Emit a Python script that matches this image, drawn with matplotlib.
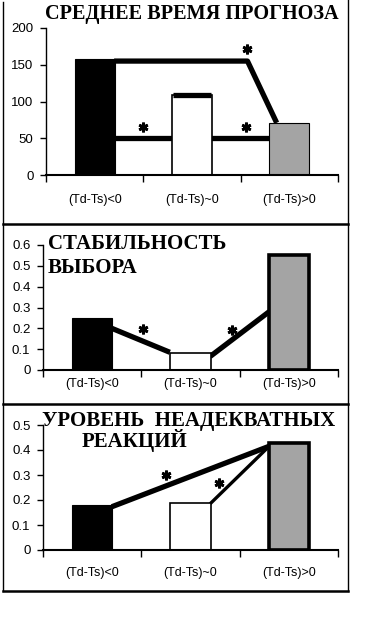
import matplotlib
matplotlib.use('Agg')
import matplotlib.pyplot as plt
from matplotlib.lines import Line2D

W, H = 380, 625  # figure size in pixels

cats = ['(Td-Ts)<0', '(Td-Ts)~0', '(Td-Ts)>0']

# panel 1 - mean forecast time
time_vals = [158, 109, 71]
time_ticks = [0, 50, 100, 150, 200]
time_lines = [([0.2, 1.57, 1.87], [155, 155, 71]),
              ([0.2, 0.8], [51, 51]),
              ([1.2, 1.8], [51, 51]),
              ([0.8, 1.2], [109, 109])]
time_stars_x = [0.5, 1.55, 1.57]
time_stars_y = [65, 65, 171]

# panel 2 - choice stability
stab_vals = [0.25, 0.08, 0.55]
stab_ticks = [0, 0.1, 0.2, 0.3, 0.4, 0.5, 0.6]
stab_lines = [([0.2, 0.79], [0.2, 0.085]),
              ([1.2, 1.8], [0.065, 0.28])]
stab_stars_x = [0.52, 1.42]
stab_stars_y = [0.196, 0.19]

# panel 3 - inadequate reactions
inad_vals = [0.18, 0.19, 0.43]
inad_ticks = [0, 0.1, 0.2, 0.3, 0.4, 0.5]
inad_lines = [([0.2, 1.8], [0.173, 0.415]),
              ([1.2, 1.8], [0.185, 0.415])]
inad_lw = [3.8, 2.4]
inad_stars_x = [0.75, 1.29]
inad_stars_y = [0.30, 0.267]

fig = plt.figure(figsize=(W / 100, H / 100), dpi=100)


def px_axes(l, t, r, b):
    return fig.add_axes([l / W, 1 - b / H, (r - l) / W, (b - t) / H])


def ftext(x, y, s, size, **kw):
    fig.text(x / W, 1 - y / H, s, fontsize=size, fontweight='bold',
             family='Liberation Serif', va='baseline', ha='left', **kw)


def fline(x0, y0, x1, y1, lw=1.0):
    fig.add_artist(Line2D([x0 / W, x1 / W], [1 - y0 / H, 1 - y1 / H],
                          transform=fig.transFigure, color='black', lw=lw))


def setup(ax, ticks, labels, ymax, xpad):
    ax.set_xlim(-0.5, 2.5)
    ax.set_ylim(0, ymax)
    for s in ['top', 'right']:
        ax.spines[s].set_visible(False)
    ax.spines['left'].set_linewidth(1.0)
    ax.spines['bottom'].set_linewidth(1.5)
    ax.set_yticks(ticks)
    ax.set_yticklabels(labels, family='Liberation Sans', fontsize=9.5)
    ax.tick_params(axis='y', length=4, width=1, pad=5)
    ax.set_xticks([0, 1, 2])
    ax.set_xticklabels(cats, family='Liberation Sans', fontsize=9)
    ax.set_xticks([-0.5, 0.5, 1.5, 2.5], minor=True)
    ax.tick_params(axis='x', which='major', length=0, pad=xpad)
    ax.tick_params(axis='x', which='minor', length=5, width=1)
    ax.patch.set_alpha(0)


def draw_bars(ax, vals, last_lw):
    x = [0, 1, 2]
    ax.bar(x, vals, width=0.41, color=['black', 'white', '#a4a4a4'],
           edgecolor='black', linewidth=[0.8, 1.2, last_lw], zorder=2)


def stars(ax, xs, ys):
    ax.plot(xs, ys, linestyle='none', marker=(6, 2, 0), markersize=7,
            markeredgewidth=2, color='black', zorder=4)


# ---- panel 1
ax1 = px_axes(46, 28, 338, 175)
setup(ax1, time_ticks, [str(t) for t in time_ticks], 200, 14)
draw_bars(ax1, time_vals, 0.8)
for i, (xs, ys) in enumerate(time_lines):
    ax1.plot(xs, ys, color='black', lw=3.8, zorder=3 if i == 3 else 1,
             solid_capstyle='butt')
stars(ax1, time_stars_x, time_stars_y)
ftext(45, 19, 'СРЕДНЕЕ ВРЕМЯ ПРОГНОЗА', 14.6)

# ---- panel 2
ax2 = px_axes(43, 245, 338, 370)
setup(ax2, stab_ticks, ['0', '0.1', '0.2', '0.3', '0.4', '0.5', '0.6'], 0.6, 6)
draw_bars(ax2, stab_vals, 2.6)
for xs, ys in stab_lines:
    ax2.plot(xs, ys, color='black', lw=3.8, zorder=1, solid_capstyle='butt')
stars(ax2, stab_stars_x, stab_stars_y)
ftext(48, 249, 'СТАБИЛЬНОСТЬ', 15)
ftext(48, 273, 'ВЫБОРА', 15)

# ---- panel 3
ax3 = px_axes(43, 425, 338, 550)
setup(ax3, inad_ticks, ['0', '0.1', '0.2', '0.3', '0.4', '0.5'], 0.5, 12)
draw_bars(ax3, inad_vals, 2.6)
for (xs, ys), lw in zip(inad_lines, inad_lw):
    ax3.plot(xs, ys, color='black', lw=lw, zorder=1, solid_capstyle='butt')
stars(ax3, inad_stars_x, inad_stars_y)
ftext(42, 426, 'УРОВЕНЬ  НЕАДЕКВАТНЫХ', 15)
ftext(82, 447, 'РЕАКЦИЙ', 15)

# frame around the three panels
fline(3.5, 2, 3.5, 591)
fline(347.5, 0, 347.5, 591)
fline(3, 224, 348, 224, lw=1.8)
fline(3, 404, 348, 404, lw=1.8)
fline(3, 591, 348, 591, lw=1.8)

fig.savefig('out.png', dpi=100)
